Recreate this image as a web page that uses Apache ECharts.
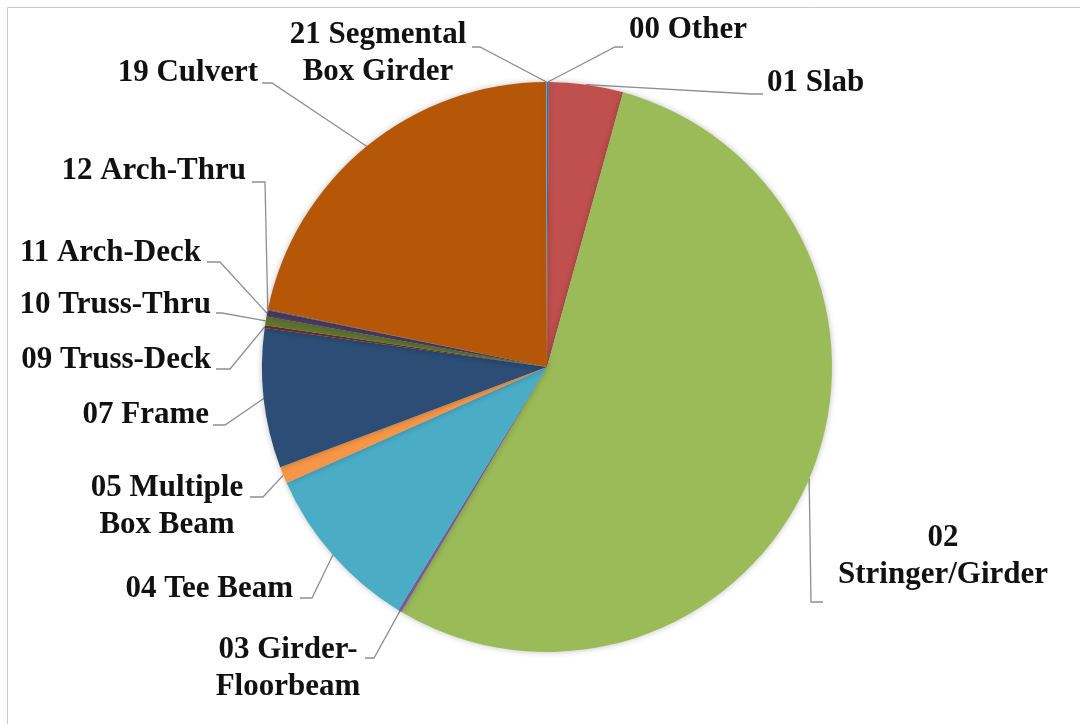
<!DOCTYPE html>
<html>
<head>
<meta charset="utf-8">
<script src="https://cdn.jsdelivr.net/npm/echarts@6/dist/echarts.min.js"></script>
<style>
html,body{margin:0;padding:0;background:#fff;}
#chart{width:1080px;height:724px;}
</style>
</head>
<body>
<div id="chart"></div>
<script>
// Data (percent share of bridge types)
const categories = ['00 Other','01 Slab','02\nStringer/Girder','03 Girder-\nFloorbeam','04 Tee Beam','05 Multiple\nBox Beam','07 Frame','09 Truss-Deck','10 Truss-Thru','11 Arch-Deck','12 Arch-Thru','19 Culvert','21 Segmental\nBox Girder'];
const values = [0.1, 4.2, 54.2, 0.2, 9.6, 0.95, 7.9, 0.15, 0.5, 0.35, 0.05, 21.7, 0.05];
const colors = ['#4F81BD','#C0504D','#9BBB59','#8064A2','#4BACC6','#F79646','#2C4D75','#772C2A','#5F7530','#4D3B62','#276A7C','#B65708','#729ACA'];

// Label placement (layout only): [x, y, align, elbowX, elbowY, endX, endY]
const labelPos = [
  [629, 30, 'left', 615, 47, 623, 47],
  [767, 83, 'left', 752, 94, 763, 94],
  [943, 556, 'center', 811, 602, 823, 602],
  [288, 668, 'center', 374, 658, 365, 658],
  [293, 589, 'right', 312, 598, 300, 598],
  [167, 506, 'center', 263, 497, 250, 497],
  [209, 415, 'right', 225, 425, 213, 425],
  [211, 360, 'right', 230, 369, 216, 369],
  [211, 305, 'right', 222, 313, 216, 313],
  [201, 253, 'right', 220, 262, 207, 262],
  [246, 171, 'right', 265, 182, 252, 182],
  [258, 73, 'right', 272, 83, 262, 83],
  [378, 53, 'center', 480, 47, 472, 47]
];

const chart = echarts.init(document.getElementById('chart'), null, {renderer: 'canvas'});
const option = {
  animation: false,
  backgroundColor: '#ffffff',
  graphic: [{
    type: 'rect',
    shape: {x: 7.5, y: 7.5, width: 1100, height: 800},
    style: {fill: 'none', stroke: '#C8C8C8', lineWidth: 1},
    silent: true, z: -1
  }],
  series: [{
    type: 'pie',
    center: [547, 367],
    radius: [0, 285],
    startAngle: 90,
    clockwise: true,
    avoidLabelOverlap: false,
    minShowLabelAngle: 0,
    data: categories.map((n, i) => ({name: n, value: values[i], itemStyle: {color: colors[i]}})),
    itemStyle: {borderWidth: 0, shadowBlur: 6, shadowColor: 'rgba(0,0,0,0.25)'},
    label: {
      show: true,
      position: 'outer',
      formatter: '{b}',
      fontFamily: '"Liberation Serif", "Times New Roman", serif',
      fontWeight: 'bold',
      fontSize: 31,
      lineHeight: 37,
      color: '#111111'
    },
    labelLine: {
      show: true,
      length: 10,
      length2: 10,
      smooth: false,
      lineStyle: {color: '#8F8F8F', width: 1.3}
    },
    labelLayout: function (params) {
      const p = labelPos[params.dataIndex];
      const start = params.labelLinePoints ? params.labelLinePoints[0] : [p[3], p[4]];
      return {
        x: p[0],
        y: p[1],
        align: p[2],
        verticalAlign: 'middle',
        labelLinePoints: [start, [p[3], p[4]], [p[5], p[6]]]
      };
    },
    emphasis: {disabled: true}
  }]
};
chart.setOption(option);
</script>
</body>
</html>
